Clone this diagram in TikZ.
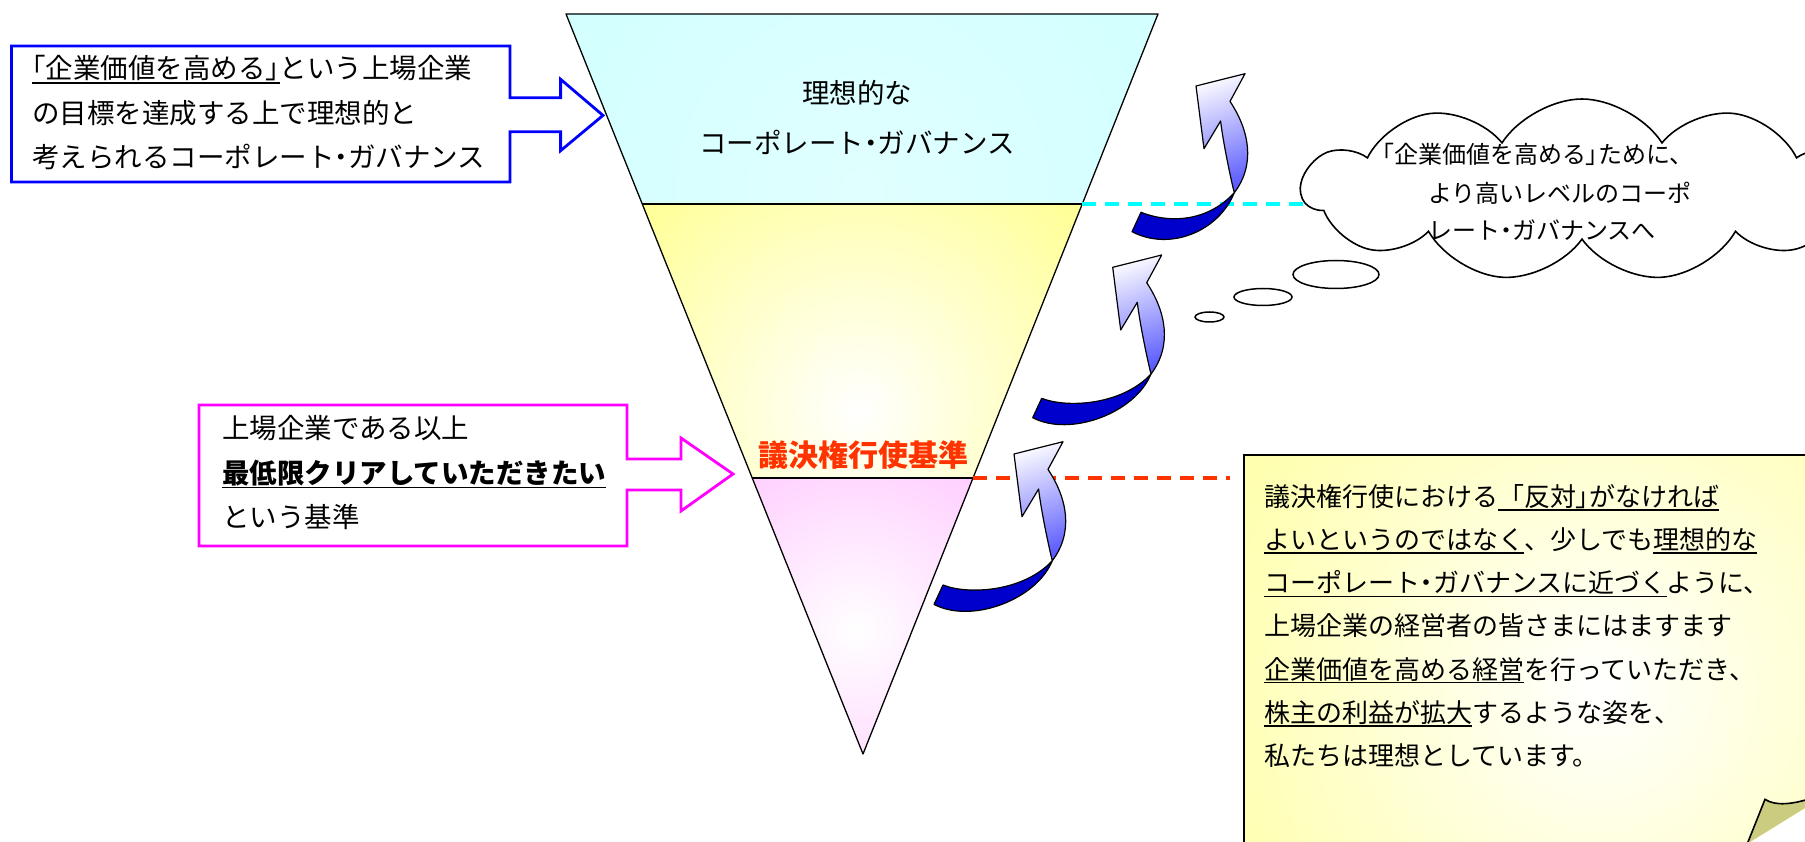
\documentclass[tikz,border=0pt]{standalone}
\usepackage{fontspec}
\setmainfont{Noto Sans CJK JP}
\usetikzlibrary{shapes.symbols}
\definecolor{cyanfill}{HTML}{CCFFFF}
\definecolor{yelfill}{HTML}{FFFF99}
\definecolor{pinkfill}{HTML}{FFCCFF}
\definecolor{redorange}{HTML}{FF3300}
\definecolor{arrowdark}{HTML}{0000CC}
\definecolor{arrowlight}{HTML}{5C5CFF}
\definecolor{arrowpale}{HTML}{F6F6FF}
\definecolor{foldcol}{HTML}{CCCC80}
\definecolor{notefill}{HTML}{FFFF99}
\definecolor{boxblue}{HTML}{0000FF}
\definecolor{boxmag}{HTML}{FF00FF}
\definecolor{dashcyan}{HTML}{00FFFF}
\newcommand\ulx[1]{\setbox0\hbox{#1}\rlap{\rule[-0.17em]{\wd0}{1.5pt}}\box0}
\newcommand\lbr{{\addfontfeatures{RawFeature=+palt}「}}
\newcommand\rbr{{\addfontfeatures{RawFeature=+palt}」}}
\newcommand\nk{{\addfontfeatures{RawFeature=+palt}・}}
\tikzset{
  trioutline/.style={draw=black, line width=1.3pt, line join=round},
  bigtext/.style={font={\fontsize{27.5}{44.5}\selectfont}, align=left, inner sep=0pt, anchor=north west},
  notetext/.style={font={\fontsize{26}{43.2}\selectfont}, align=left, inner sep=0pt, anchor=north west},
  cloudtext/.style={font={\fontsize{24}{30}\selectfont}, inner sep=0pt, anchor=west, text height=21pt, text depth=3pt},
  arrowline/.style={draw=black, line width=1.2pt, line join=round},
  bubble/.style={draw=black, fill=white, line width=1.5pt},
  calloutblue/.style={draw=boxblue, fill=white, line width=2.8pt},
  calloutmag/.style={draw=boxmag, fill=white, line width=2.8pt},
  cyandash/.style={draw=dashcyan, line width=3.5pt, dash pattern=on 14pt off 9pt},
  reddash/.style={draw=redorange, line width=3.5pt, dash pattern=on 14pt off 9pt},
}
\newcommand{\mycurvedarrow}[4]{%
  \begin{scope}[shift={(#1,#2)}]
    \draw[arrowline, fill=arrowdark] (38.3,106.7) .. controls (22.3,146) and ({-42.7+#3},{170+#4}) .. ({-80+#3},{150.4+#4}) -- ({-71+#3},{131+#4}) .. controls ({-46+#3},{141+#4}) and (9.3,138) .. (38.3,106.7) -- cycle;
    \shadedraw[arrowline, top color=arrowpale, bottom color=arrowlight, shading angle=20] (24.6,35) -- (8,62.7) -- (0,0) -- (49,-12.3) -- (34,15.4) .. controls (53,44) and (60,78) .. (38.3,106.7) .. controls (35,94) and (27,56) .. (24.6,35) -- cycle;
  \end{scope}}
\begin{document}
\begin{tikzpicture}[x=1pt,y=-1pt]
\useasboundingbox (0,0) rectangle (1805,842);
\fill[white] (0,0) rectangle (1805,842);
% triangle key points
\coordinate (tl) at (566,14);
\coordinate (tr) at (1158,14);
\coordinate (apex) at (863,754);
\coordinate (b1l) at (642.3,204);
\coordinate (b1r) at (1082.3,204);
\coordinate (b2l) at (752.2,478);
\coordinate (b2r) at (973,478);
% cyan band
\begin{scope}
  \clip (tl) -- (tr) -- (b1r) -- (b1l) -- cycle;
  \fill[cyanfill] (560,10) rectangle (1165,210);
  \shade[inner color=cyanfill!60!white, outer color=cyanfill] (862,190) circle (480);
\end{scope}
% yellow band
\begin{scope}
  \clip (b1l) -- (b1r) -- (b2r) -- (b2l) -- cycle;
  \fill[yelfill] (640,200) rectangle (1090,480);
  \shade[inner color=white, outer color=yelfill] (858,410) circle (290);
\end{scope}
% pink band
\begin{scope}
  \clip (b2l) -- (b2r) -- (apex) -- cycle;
  \fill[pinkfill] (750,475) rectangle (980,760);
  \shade[inner color=white, outer color=pinkfill] (856,630) circle (200);
\end{scope}
\draw[trioutline] (tl) -- (tr) -- (apex) -- cycle;
\draw[trioutline] (b1l) -- (b1r);
\draw[trioutline] (b2l) -- (b2r);
\node[font={\fontsize{27.5}{50}\selectfont}, align=center, inner sep=0pt] (ideal) at (857,117) {理想的な\\コーポレート\nk ガバナンス};
\node[font={\fontsize{30}{36}\selectfont\bfseries}, text=redorange, inner sep=0pt] (vote) at (863,455) {議決権行使基準};
% note box
\begin{scope}
  \clip (1244,455) -- (1815,455) -- (1815,801.8) -- (1740.3,848) -- (1244,848) -- cycle;
  \fill[notefill] (1240,450) rectangle (1820,850);
  \shade[inner color=white, outer color=notefill] (1600,690) circle (520);
\end{scope}
\draw[line width=1.6pt] (1244,848) -- (1244,455) -- (1815,455);
\fill[foldcol] (1745.6,848) -- (1765,799.3) .. controls (1775,806) and (1792,805) .. (1815,797) -- (1815,801.8) -- (1740.3,848) -- cycle;
\draw[line width=1.6pt] (1745.6,848) -- (1765,799.3) .. controls (1775,806) and (1792,805) .. (1815,797);
\node[notetext] (note) at (1264,484) {議決権行使における\ulx{「反対\rbr がなければ}\\\ulx{よいというのではなく}、少しでも\ulx{理想的な}\\\ulx{コーポレート\nk ガバナンスに近づく}ように、\\上場企業の経営者の皆さまにはますます\\\ulx{企業価値を高める経営}を行っていただき、\\\ulx{株主の利益が拡大}するような姿を、\\私たちは理想としています。};
% dashed level lines
\coordinate (cyanend) at (1330,204);
\coordinate (redend) at (1230,478);
\draw[cyandash] (b1r) -- (cyanend);
\draw[reddash] (b2r) -- (redend);
% curved arrows
\mycurvedarrow{1196}{86}{16}{-4.7}
\mycurvedarrow{1112.7}{267.3}{0}{0}
\mycurvedarrow{1014}{454}{0}{0}
% thought cloud
\node[cloud, cloud puffs=11, cloud puff arc=115, cloud ignores aspect, minimum width=560pt, minimum height=182pt, draw=black, fill=white, line width=1.6pt] (cloud) at (1582,190) {};
\draw[bubble] (1336,274.5) ellipse (43 and 14);
\draw[bubble] (1263,297) ellipse (29 and 8.5);
\draw[bubble] (1209.5,317) ellipse (14.5 and 5);
\node[cloudtext] (c1) at (1382,155) {\lbr 企業価値を高める\rbr ために、};
\node[cloudtext] (c2) at (1428,194) {より高いレベルのコーポ};
\node[cloudtext] (c3) at (1428,231) {レート\nk ガバナンスへ};
% callout boxes
\draw[calloutblue] (11.5,46) -- (510,46) -- (510,97.7) -- (560.6,97.7) -- (560.6,79.3) -- (603,115.4) -- (560.6,150.7) -- (560.6,131.7) -- (510,131.7) -- (510,182) -- (11.5,182) -- cycle;
\node[bigtext] (bluetext) at (32,55.5) {\ulx{\lbr 企業価値を高める\rbr}という上場企業\\の目標を達成する上で理想的と\\考えられるコーポレート\nk ガバナンス};
\draw[calloutmag] (199,405) -- (627,405) -- (627,459) -- (681,459) -- (681,438) -- (733,474) -- (681,511) -- (681,490) -- (627,490) -- (627,546) -- (199,546) -- cycle;
\node[bigtext] (magtext) at (222,415.5) {上場企業である以上\\\ulx{\textbf{最低限クリアしていただきたい}}\\という基準};
\end{tikzpicture}
\end{document}
